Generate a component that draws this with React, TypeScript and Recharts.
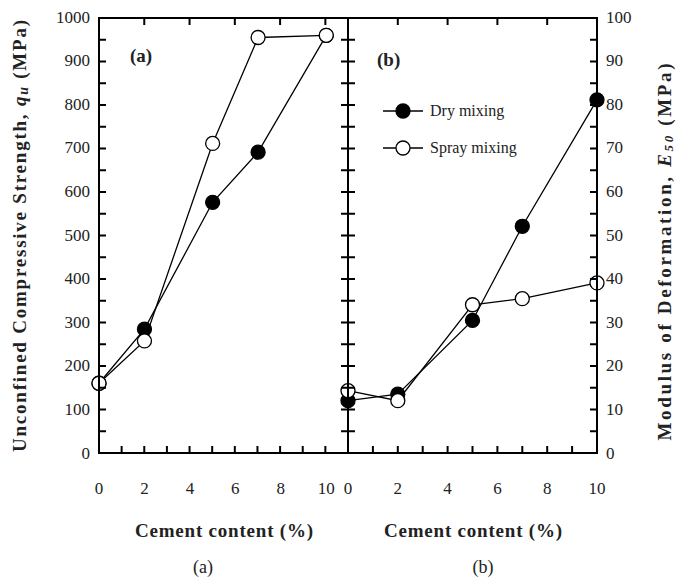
import React from "react";
import { LineChart, Line, XAxis, YAxis, Legend } from "recharts";

const cement = [0, 2, 5, 7, 10];
const ucsDry = [160, 284, 575, 690, 958];
const ucsSpray = [160, 257, 710, 953, 958];
const e50Dry = [12, 13.5, 30.4, 52, 81];
const e50Spray = [14.3, 12, 34, 35.4, 39];

const seriesNames = ["Dry mixing", "Spray mixing"];

const xTicks = [0, 1, 2, 3, 4, 5, 6, 7, 8, 9, 10];
const xLabels = [0, 2, 4, 6, 8, 10];
const topTicksA = [2, 4, 6, 8, 10];
const topTicksB = [2, 4, 6, 8];
const ucsTicks = [0, 50, 100, 150, 200, 250, 300, 350, 400, 450, 500, 550, 600, 650, 700, 750, 800, 850, 900, 950, 1000];
const ucsLabels = [0, 100, 200, 300, 400, 500, 600, 700, 800, 900, 1000];
const e50Ticks = [0, 5, 10, 15, 20, 25, 30, 35, 40, 45, 50, 55, 60, 65, 70, 75, 80, 85, 90, 95, 100];
const e50Labels = [0, 10, 20, 30, 40, 50, 60, 70, 80, 90, 100];

const ucsData = cement.map((c, i) => ({ c, dry: ucsDry[i], spray: ucsSpray[i] }));
const e50Data = cement.map((c, i) => ({ c, dry: e50Dry[i], spray: e50Spray[i] }));

const FONT = "'Liberation Serif', 'Times New Roman', serif";
const W = 678;
const H = 579;
const TOP = 18;
const BOTTOM = 453;
const INK = "#000";
const TL = 7;

// left panel: chart box 0..360, plot 99..348
const A_W = 360;
const A_L = 99;
const A_R = 348;
// right panel: chart box 330..678, plot 348..597 (local 18..267)
const B_X = 330;
const B_W = 348;
const B_L = 18;
const B_R = 267;

// frame ticks follow the same linear mapping as the chart scales
const xA = (v: number) => A_L + (v / 11) * (A_R - A_L);
const xB = (v: number) => B_X + B_L + (v / 10) * (B_R - B_L);
const yA = (v: number) => BOTTOM - (v / 1000) * (BOTTOM - TOP);
const yB = (v: number) => BOTTOM - (v / 100) * (BOTTOM - TOP);

function tickPath() {
  let d = "";
  xTicks.forEach((v) => {
    d += `M${xA(v)},${BOTTOM}V${BOTTOM - TL}`;
    d += `M${xB(v)},${BOTTOM}V${BOTTOM - TL}`;
  });
  topTicksA.forEach((v) => (d += `M${xA(v)},${TOP}V${TOP + TL}`));
  topTicksB.forEach((v) => (d += `M${xB(v)},${TOP}V${TOP + TL}`));
  ucsTicks.forEach((v) => {
    d += `M${A_L},${yA(v)}H${A_L + TL}`;
    d += `M${A_R},${yA(v)}H${A_R - TL}`;
  });
  e50Ticks.forEach((v) => {
    d += `M${A_R},${yB(v)}H${A_R + TL}`;
    d += `M${B_X + B_R},${yB(v)}H${B_X + B_R - TL}`;
  });
  return d;
}

function framePath() {
  const r = B_X + B_R;
  return `M${A_L},${TOP}H${r}V${BOTTOM}H${A_L}Z M${A_R},${TOP}V${BOTTOM}`;
}

// side: "b" bottom, "l" left, "r" right — tick labels only
const mk = (side: string, pos: number, labels: number[]) => (p: any) => {
  const v = side === "b";
  const val = p.payload.value;
  if (labels.indexOf(val) < 0) return <g />;
  return (
    <text
      x={v ? p.x : side === "l" ? pos - 9 : pos + 9}
      y={v ? pos + 35 : p.y}
      textAnchor={v ? "middle" : side === "l" ? "end" : "start"}
      dominantBaseline="central"
      fontFamily={FONT}
      fontSize={17}
      fill="#222"
    >
      {val}
    </text>
  );
};

const dot = (fill: string) => ({ r: 7, fill, stroke: INK, strokeWidth: 1.3 });

function LegendBox() {
  return (
    <div style={{ fontFamily: FONT, fontSize: 16, color: "#222" }}>
      {seriesNames.map((n, i) => (
        <div key={n} style={{ display: "flex", alignItems: "center", height: 37 }}>
          <svg width={47} height={20}>
            <path d="M0,10H40" stroke={INK} strokeWidth={1.4} />
            <circle cx={20} cy={10} r={7} fill={i === 0 ? INK : "#fff"} stroke={INK} strokeWidth={1.3} />
          </svg>
          <span>{n}</span>
        </div>
      ))}
    </div>
  );
}

export default function App() {
  return (
    <div style={{ position: "relative", width: W, height: H, background: "#fff" }}>
      <style>{"body{margin:0}"}</style>
      <div style={{ position: "absolute", left: 0, top: 0 }}>
        <LineChart
          width={A_W}
          height={H}
          data={ucsData}
          margin={{ top: TOP - 1, left: A_L - 1, right: A_W - A_R - 1, bottom: H - BOTTOM - 1 }}
        >
          <XAxis dataKey="c" type="number" domain={[0, 11]} ticks={xTicks} interval={0} height={1} axisLine={false} tickLine={false} tick={mk("b", BOTTOM, xLabels)} />
          <YAxis type="number" domain={[0, 1000]} ticks={ucsTicks} interval={0} width={1} axisLine={false} tickLine={false} tick={mk("l", A_L, ucsLabels)} />
          <Line dataKey="dry" name={seriesNames[0]} stroke={INK} strokeWidth={1.3} dot={dot(INK)} isAnimationActive={false} />
          <Line dataKey="spray" name={seriesNames[1]} stroke={INK} strokeWidth={1.3} dot={dot("#fff")} isAnimationActive={false} />
        </LineChart>
      </div>
      <div style={{ position: "absolute", left: B_X, top: 0 }}>
        <LineChart
          width={B_W}
          height={H}
          data={e50Data}
          margin={{ top: TOP - 1, left: B_L, right: B_W - B_R - 1, bottom: H - BOTTOM - 1 }}
        >
          <XAxis dataKey="c" type="number" domain={[0, 10]} ticks={xTicks} interval={0} height={1} axisLine={false} tickLine={false} tick={mk("b", BOTTOM, xLabels)} />
          <YAxis orientation="right" type="number" domain={[0, 100]} ticks={e50Ticks} interval={0} width={1} axisLine={false} tickLine={false} tick={mk("r", B_R, e50Labels)} />
          <Legend
            layout="horizontal"
            verticalAlign="middle"
            content={() => <LegendBox />}
            wrapperStyle={{ left: 383 - B_X, top: 92, width: 180, height: 80 }}
          />
          <Line dataKey="dry" name={seriesNames[0]} stroke={INK} strokeWidth={1.3} dot={dot(INK)} isAnimationActive={false} />
          <Line dataKey="spray" name={seriesNames[1]} stroke={INK} strokeWidth={1.3} dot={dot("#fff")} isAnimationActive={false} />
        </LineChart>
      </div>
      <svg width={W} height={H} style={{ position: "absolute", left: 0, top: 0, pointerEvents: "none" }}>
        <path d={framePath()} fill="none" stroke={INK} strokeWidth={2} />
        <path d={tickPath()} fill="none" stroke={INK} strokeWidth={2} />
        <g fontFamily={FONT} fill="#222">
          <text x={130} y={55} fontSize={19} fontWeight="bold" dominantBaseline="central">(a)</text>
          <text x={377} y={59} fontSize={19} fontWeight="bold" dominantBaseline="central">(b)</text>
          <text x={224} y={530} fontSize={19} fontWeight="bold" textAnchor="middle" dominantBaseline="central" textLength={178}>
            Cement content (%)
          </text>
          <text x={473} y={530} fontSize={19} fontWeight="bold" textAnchor="middle" dominantBaseline="central" textLength={178}>
            Cement content (%)
          </text>
          <text x={203} y={567} fontSize={18} textAnchor="middle" dominantBaseline="central">(a)</text>
          <text x={483} y={567} fontSize={18} textAnchor="middle" dominantBaseline="central">(b)</text>
          <text
            transform="translate(19,236) rotate(-90)"
            fontSize={19}
            fontWeight="bold"
            textAnchor="middle"
            dominantBaseline="central"
            textLength={432}
          >
            Unconfined Compressive Strength, <tspan fontStyle="italic">q</tspan>
            <tspan fontStyle="italic" fontSize={14} dy={4}>u</tspan>
            <tspan dy={-4}> (MPa)</tspan>
          </text>
          <text
            transform="translate(664,252) rotate(-90)"
            fontSize={19}
            fontWeight="bold"
            textAnchor="middle"
            dominantBaseline="central"
            textLength={377}
          >
            Modulus of Deformation, <tspan fontStyle="italic">E</tspan>
            <tspan fontStyle="italic" fontSize={13} dy={4}>50</tspan>
            <tspan dy={-4}> (MPa)</tspan>
          </text>
        </g>
      </svg>
    </div>
  );
}
